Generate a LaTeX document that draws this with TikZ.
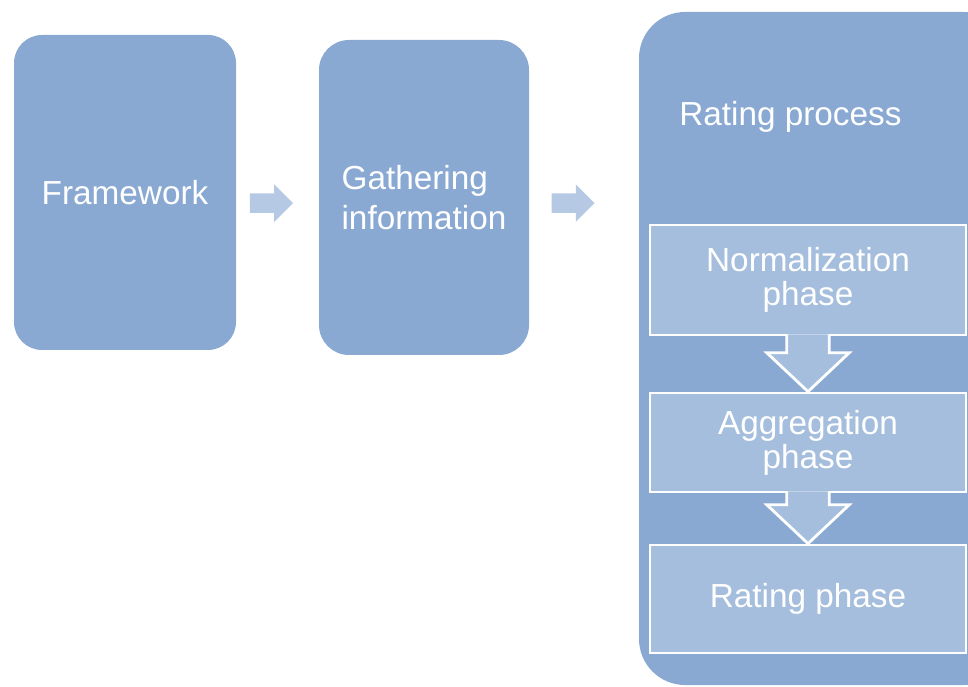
\documentclass[tikz,border=0pt]{standalone}
\usepackage{fontspec}
\setmainfont{Liberation Sans}
\usetikzlibrary{calc, shapes.arrows}
\definecolor{bblue}{RGB}{137, 169, 210}
\definecolor{lblue}{RGB}{165, 190, 221}
\definecolor{ablue}{RGB}{181, 200, 228}

\begin{document}
\begin{tikzpicture}[
    stage/.style={rectangle,fill=bblue,text=white,inner sep=0pt,align=left,font=\fontsize{23.7pt}{28.5pt}\selectfont},
    phase/.style={rectangle,draw=white,line width=2pt,fill=lblue,text=white,align=center,minimum width=7.9cm,font=\fontsize{23.7pt}{24.2pt}\selectfont},
    rarrow/.style={single arrow,fill=ablue,inner xsep=0pt,inner ysep=0.2375cm,minimum height=1.075cm,single arrow head extend=0.225cm},
    darrow/.style={draw=white,line width=2pt,fill=lblue,line join=miter}
  ]

  \useasboundingbox (0,0) rectangle (24.2,17.15);
  \clip (0,0) rectangle (24.2,17.15);

  \node[stage,rounded corners=0.7cm,minimum width=5.55cm,minimum height=7.875cm] (frame) at (3.125,12.3375) {Framework};
  \node[stage,rounded corners=0.75cm,minimum width=5.25cm,minimum height=7.875cm] (gather) at (10.6,12.2125) {Gathering\\information};
  \node[stage,rounded corners=1.15cm,minimum width=9.275cm,minimum height=16.825cm] (process) at (20.6125,8.4375) {};
  \node[text=white,anchor=base west,inner sep=0pt,font=\fontsize{23.7pt}{28.5pt}\selectfont] (ptitle) at (16.975,14.0) {Rating process};

  \node[phase,minimum height=2.75cm] (norm) at (20.2,10.15) {Normalization\\phase};
  \node[phase,minimum height=2.475cm] (aggr) at (20.2,6.0875) {Aggregation\\phase};
  \node[phase,minimum height=2.7cm] (rate) at (20.2,2.175) {Rating phase};

  % arrows between the stages
  \path (frame.east) -- (gather.west) node[rarrow,pos=0.367,yshift=-0.22cm] (a1) {};
  \path (gather.east) -- (gather.east -| process.west) node[rarrow,pos=0.355,yshift=-0.14cm] (a2) {};

  % arrows between the phases
  \foreach \a/\b in {norm/aggr, aggr/rate} {
    \draw[darrow] ($(\a.south)+(-0.53,0.05)$) -- ($(\b.north)+(-0.53,0.97)$) -- ($(\b.north)+(-1.03,0.97)$)
      -- (\b.north) -- ($(\b.north)+(1.03,0.97)$) -- ($(\b.north)+(0.53,0.97)$) -- ($(\a.south)+(0.53,0.05)$);
  }

\end{tikzpicture}
\end{document}
